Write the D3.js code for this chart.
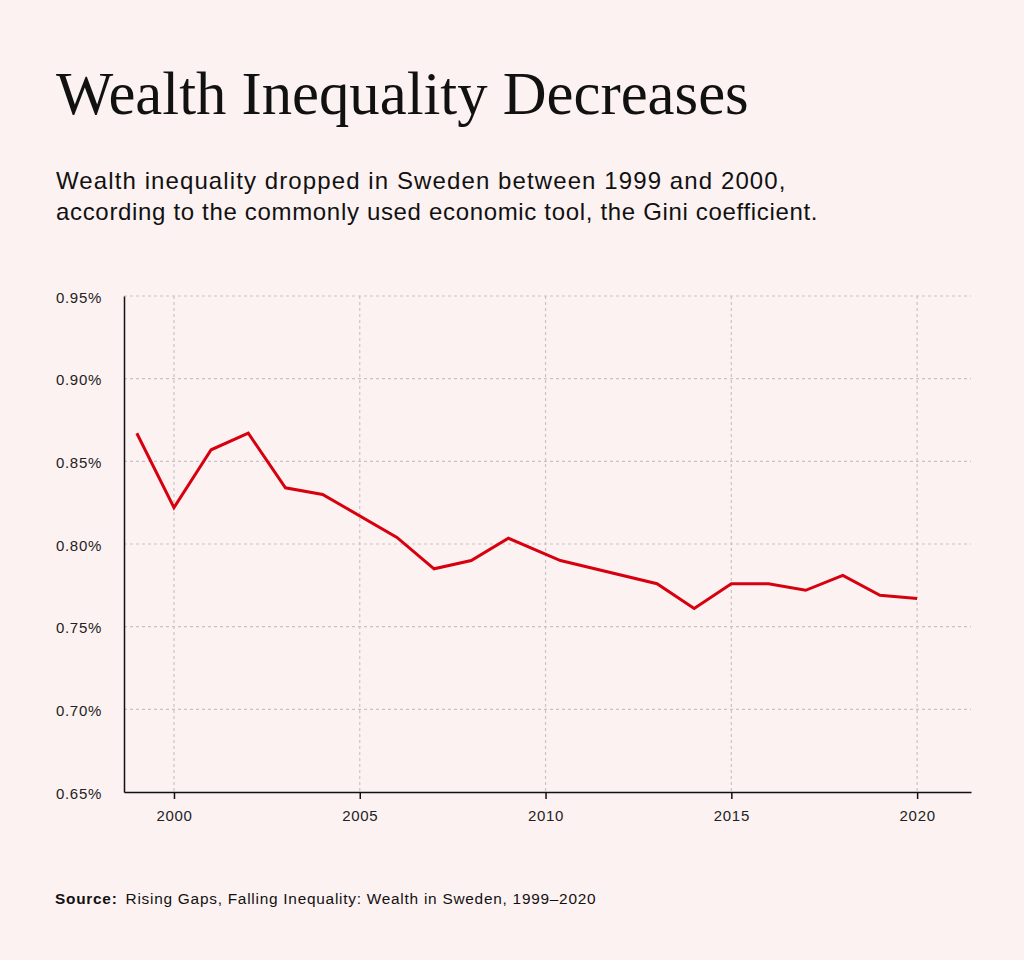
<!DOCTYPE html>
<html>
<head>
<meta charset="utf-8">
<script src="https://cdn.jsdelivr.net/npm/d3@7"></script>
<style>
  html, body { margin: 0; padding: 0; background: #fdf2f2; }
  svg { display: block; }
</style>
</head>
<body>
<svg id="chart" width="1024" height="960"></svg>
<script>
const years = [1999, 2000, 2001, 2002, 2003, 2004, 2006, 2007, 2008, 2009, 2010.4, 2013, 2014, 2015, 2016, 2017, 2018, 2019, 2020];
const gini  = [0.867, 0.822, 0.857, 0.867, 0.834, 0.830, 0.804, 0.785, 0.790, 0.8035, 0.790, 0.776, 0.761, 0.776, 0.776, 0.772, 0.781, 0.769, 0.767];
const xTicks = [2000, 2005, 2010, 2015, 2020];
const yTicks = [0.65, 0.70, 0.75, 0.80, 0.85, 0.90, 0.95];

const titleText = "Wealth Inequality Decreases";
const subtitleLines = [
  "Wealth inequality dropped in Sweden between 1999 and 2000,",
  "according to the commonly used economic tool, the Gini coefficient."
];
const sourceLabel = "Source:";
const sourceText = "Rising Gaps, Falling Inequality: Wealth in Sweden, 1999\u20132020";

(function () {
const svg = d3.select("#chart");
svg.append("rect").attr("width", 1024).attr("height", 960).attr("fill", "#fdf2f2");

const sans = "'Liberation Sans', Arial, Helvetica, sans-serif";
const serif = "'Liberation Serif', 'Times New Roman', serif";

svg.append("text")
  .attr("x", 56).attr("y", 114)
  .attr("font-family", serif).attr("font-size", 60.7)
  .attr("fill", "#111")
  .text(titleText);

svg.append("g").selectAll("text").data(subtitleLines).join("text")
  .attr("x", 56).attr("y", (d, i) => 189 + i * 31)
  .attr("font-family", sans).attr("font-size", 24)
  .attr("letter-spacing", (d, i) => i === 0 ? 1.1 : 0.67)
  .attr("fill", "#111")
  .text(d => d);

const mLeft = 124, mRight = 971, mTop = 296, mBottom = 792;

const x = d3.scaleLinear().domain([1998.655, 2021.45]).range([mLeft, mRight]);
const y = d3.scaleLinear().domain([0.65, 0.95]).range([mBottom, mTop]);

// grid
const grid = svg.append("g").attr("stroke", "#c9c4c4").attr("stroke-width", 1.2).attr("stroke-dasharray", "3,3");
grid.selectAll("line.h").data(yTicks.filter(v => v > 0.65)).join("line")
  .attr("class", "h")
  .attr("x1", mLeft).attr("x2", mRight)
  .attr("y1", d => y(d)).attr("y2", d => y(d));
grid.selectAll("line.v").data(xTicks).join("line")
  .attr("class", "v")
  .attr("x1", d => x(d)).attr("x2", d => x(d))
  .attr("y1", mTop).attr("y2", mBottom);

// axes
const yAxis = svg.append("g").attr("transform", `translate(${mLeft},0)`)
  .call(d3.axisLeft(y).tickValues(yTicks).tickSize(0).tickPadding(22).tickFormat(d => d3.format(".2f")(d) + "%"));
yAxis.select(".domain").attr("stroke", "#111").attr("stroke-width", 1.5);
yAxis.selectAll("text").attr("font-family", sans).attr("font-size", 15).attr("letter-spacing", 0.7).attr("fill", "#222").attr("dy", "0.4em");

const xAxis = svg.append("g").attr("transform", `translate(0,${mBottom})`)
  .call(d3.axisBottom(x).tickValues(xTicks).tickSize(7).tickSizeOuter(0).tickPadding(11.3).tickFormat(d3.format("d")));
xAxis.select(".domain").attr("stroke", "#111").attr("stroke-width", 1.5);
xAxis.selectAll(".tick line").attr("stroke", "#111").attr("stroke-width", 1.5);
xAxis.selectAll("text").attr("font-family", sans).attr("font-size", 15).attr("letter-spacing", 0.7).attr("fill", "#222");

// line
const data = years.map((yr, i) => ({ yr, v: gini[i] }));
svg.append("path").datum(data)
  .attr("fill", "none")
  .attr("stroke", "#d7000f")
  .attr("stroke-width", 3)
  .attr("stroke-linejoin", "miter")
  .attr("d", d3.line().x(d => x(d.yr)).y(d => y(d.v)));

// source
const src = svg.append("text").attr("x", 55).attr("y", 904)
  .attr("font-family", sans).attr("font-size", 15.4).attr("letter-spacing", 0.75).attr("fill", "#111");
src.append("tspan").attr("font-weight", "bold").text(sourceLabel);
src.append("tspan").attr("dx", 8).text(sourceText);
})();
</script>
</body>
</html>
